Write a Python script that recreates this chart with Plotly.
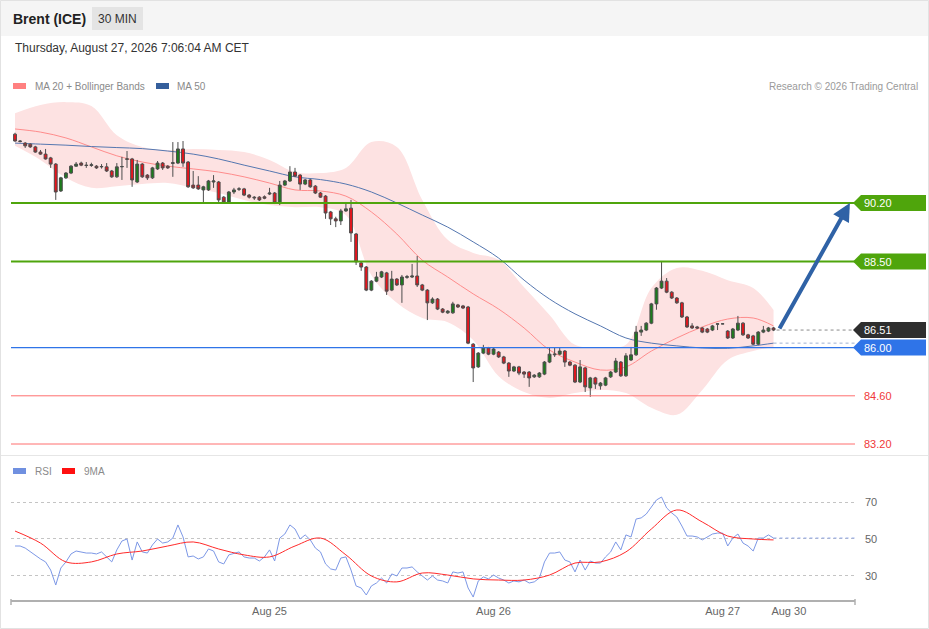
import plotly.graph_objects as go

# ---- price candles (30 min bars, index 0 = first bar on screen)
opens = [
    92.20, 92.00, 91.94, 91.91, 91.83, 91.68, 91.62, 91.51, 91.33, 90.55,
    90.93, 91.07, 91.27, 91.36, 91.30, 91.29, 91.27, 91.25, 91.25, 91.13,
    90.96, 91.25, 91.47, 91.48, 90.81, 91.33, 91.01, 90.93, 91.19, 91.36,
    91.27, 91.35, 91.36, 91.77, 91.39, 90.72, 90.72, 90.58, 90.58, 90.81,
    90.81, 90.37, 90.23, 90.52, 90.60, 90.61, 90.43, 90.37, 90.37, 90.38,
    90.46, 90.49, 90.20, 90.72, 90.84, 91.10, 91.01, 90.75, 90.87, 90.69,
    90.49, 90.40, 89.94, 89.74, 89.68, 89.97, 90.05, 89.30, 88.46, 88.34,
    87.67, 87.93, 88.05, 88.17, 87.67, 87.99, 87.82, 88.04, 88.05, 88.08,
    87.82, 87.67, 87.30, 87.41, 87.12, 87.01, 87.01, 87.24, 87.21, 87.18,
    86.10, 85.44, 85.84, 85.99, 85.81, 85.87, 85.73, 85.55, 85.32, 85.44,
    85.29, 85.29, 85.15, 85.15, 85.23, 85.58, 85.79, 85.81, 85.90, 85.58,
    85.49, 85.00, 85.41, 84.83, 85.12, 84.89, 84.91, 85.15, 85.29, 85.58,
    85.18, 85.64, 85.79, 86.45, 86.51, 86.71, 87.27, 87.73, 87.93, 87.61,
    87.44, 87.30, 86.89, 86.63, 86.60, 86.57, 86.54, 86.51, 86.68, 86.69,
    86.48, 86.28, 86.51, 86.71, 86.37, 86.34, 86.10, 86.45, 86.48, 86.57,
]
highs = [
    92.24, 92.03, 91.97, 91.93, 91.86, 91.74, 91.77, 91.54, 91.36, 90.96,
    91.10, 91.30, 91.39, 91.40, 91.39, 91.37, 91.30, 91.33, 91.36, 91.16,
    91.36, 91.54, 91.71, 91.51, 91.45, 91.36, 91.04, 91.25, 91.42, 91.39,
    91.30, 91.97, 91.97, 92.00, 91.42, 91.13, 90.98, 90.70, 90.87, 91.01,
    90.84, 90.40, 90.55, 90.64, 90.66, 90.64, 90.46, 90.40, 90.40, 90.42,
    90.64, 90.52, 90.84, 90.87, 91.27, 91.22, 91.04, 90.90, 90.90, 90.72,
    90.52, 90.43, 89.97, 89.80, 90.03, 90.23, 90.29, 89.33, 88.49, 88.37,
    87.96, 88.20, 88.23, 88.20, 88.23, 88.02, 88.11, 88.11, 88.43, 88.66,
    87.85, 87.70, 87.46, 87.44, 87.15, 87.09, 87.33, 87.27, 87.24, 87.21,
    86.13, 85.87, 86.08, 86.02, 85.99, 85.90, 85.76, 85.58, 85.47, 85.47,
    85.32, 85.32, 85.23, 85.29, 85.61, 85.99, 85.99, 85.99, 85.93, 85.61,
    85.52, 85.64, 85.44, 85.15, 85.15, 85.00, 85.15, 85.32, 85.70, 85.61,
    85.84, 86.02, 86.63, 86.63, 86.74, 87.30, 87.76, 88.49, 88.02, 87.64,
    87.47, 87.33, 86.92, 86.71, 86.63, 86.60, 86.57, 86.66, 86.71, 86.70,
    86.51, 86.57, 86.92, 86.74, 86.40, 86.37, 86.48, 86.63, 86.60, 86.60,
]
lows = [
    91.98, 91.96, 91.80, 91.80, 91.66, 91.60, 91.46, 91.22, 90.29, 90.52,
    90.90, 91.04, 91.25, 91.27, 91.22, 91.25, 91.19, 91.20, 91.10, 90.93,
    90.93, 90.87, 91.22, 90.67, 90.78, 90.93, 90.87, 90.90, 91.16, 91.16,
    91.19, 90.96, 91.33, 91.25, 90.64, 90.61, 90.58, 90.20, 90.55, 90.64,
    90.20, 90.20, 90.20, 90.46, 90.55, 90.40, 90.33, 90.29, 90.26, 90.31,
    90.43, 90.17, 90.14, 90.69, 90.81, 90.96, 90.58, 90.72, 90.64, 90.46,
    90.35, 89.74, 89.56, 89.50, 89.56, 89.94, 89.07, 88.40, 88.23, 87.64,
    87.64, 87.90, 88.02, 87.53, 87.64, 87.79, 87.30, 88.00, 88.02, 87.76,
    87.64, 86.80, 87.27, 87.09, 87.00, 86.98, 86.98, 87.15, 87.12, 86.10,
    85.00, 85.41, 85.81, 85.78, 85.78, 85.70, 85.52, 85.15, 85.29, 85.20,
    85.12, 84.86, 85.12, 85.12, 85.20, 85.55, 85.73, 85.78, 85.44, 85.46,
    84.97, 84.97, 84.71, 84.57, 84.80, 84.78, 84.88, 85.12, 85.26, 85.15,
    85.15, 85.61, 85.76, 86.34, 86.48, 86.68, 87.10, 87.70, 87.58, 87.41,
    87.27, 86.86, 86.57, 86.54, 86.54, 86.42, 86.42, 86.48, 86.51, 86.68,
    86.25, 86.25, 86.48, 86.34, 86.25, 86.07, 86.07, 86.42, 86.45, 86.48,
]
closes = [
    92.00, 91.99, 91.86, 91.83, 91.68, 91.62, 91.48, 91.33, 90.52, 90.93,
    91.07, 91.27, 91.33, 91.30, 91.29, 91.31, 91.22, 91.26, 91.13, 90.96,
    91.25, 91.26, 91.48, 90.87, 91.33, 90.96, 90.93, 91.22, 91.36, 91.22,
    91.22, 91.37, 91.77, 91.36, 90.67, 90.64, 90.61, 90.67, 90.84, 90.84,
    90.29, 90.23, 90.52, 90.58, 90.61, 90.43, 90.37, 90.35, 90.29, 90.34,
    90.49, 90.20, 90.72, 90.84, 91.10, 90.98, 90.75, 90.87, 90.67, 90.49,
    90.37, 89.91, 89.74, 89.68, 89.97, 90.03, 89.33, 88.49, 88.34, 87.67,
    87.93, 88.05, 88.20, 87.64, 87.99, 87.82, 88.05, 88.06, 88.08, 87.82,
    87.67, 87.30, 87.41, 87.12, 87.03, 87.06, 87.27, 87.18, 87.15, 86.13,
    85.41, 85.84, 85.99, 85.81, 85.96, 85.73, 85.55, 85.32, 85.44, 85.26,
    85.23, 85.12, 85.20, 85.26, 85.58, 85.81, 85.81, 85.90, 85.58, 85.49,
    85.00, 85.44, 84.86, 85.12, 84.94, 84.97, 85.12, 85.29, 85.61, 85.18,
    85.76, 85.79, 86.45, 86.51, 86.71, 87.27, 87.73, 87.93, 87.61, 87.44,
    87.30, 86.89, 86.60, 86.57, 86.57, 86.45, 86.45, 86.63, 86.69, 86.69,
    86.28, 86.54, 86.71, 86.37, 86.28, 86.10, 86.45, 86.51, 86.57, 86.51,
]
bars = list(range(len(closes)))

# ---- overlays read every 5 bars
ma_idx = [0, 5, 10, 15, 20, 25, 30, 35, 40, 45, 50, 55, 60, 65, 70, 75,
          80, 85, 90, 95, 100, 105, 110, 115, 120, 125, 130, 135, 140, 145, 149]
ma20 = [92.35, 92.26, 92.09, 91.83, 91.57, 91.39, 91.27, 91.19, 91.10, 90.96,
        90.78, 90.58, 90.55, 90.40, 89.94, 89.30, 88.54, 88.05, 87.56, 87.12,
        86.57, 85.93, 85.58, 85.35, 85.44, 85.90, 86.28, 86.60, 86.83, 86.86, 86.63]
bb_upper = [92.81, 93.05, 93.13, 93.02, 92.17, 91.83, 91.74, 91.77, 91.74, 91.68,
            91.45, 91.10, 91.07, 91.22, 91.97, 91.83, 90.29, 89.13, 88.75, 88.55,
            87.75, 86.95, 86.08, 86.02, 86.08, 87.73, 88.31, 88.23, 87.96, 87.73, 87.09]
bb_lower = [91.86, 91.45, 90.93, 90.64, 90.69, 90.75, 90.78, 90.64, 90.49, 90.29,
            90.14, 90.08, 90.08, 89.85, 88.10, 87.30, 86.86, 86.74, 86.22, 85.17,
            84.71, 84.54, 84.68, 84.77, 84.68, 84.25, 84.05, 84.77, 85.64, 85.90, 86.02]
ma50 = [91.94, 91.91, 91.88, 91.84, 91.81, 91.78, 91.71, 91.62, 91.48, 91.30,
        91.13, 90.96, 90.88, 90.75, 90.52, 90.20, 89.85, 89.50, 89.07, 88.60,
        87.96, 87.41, 86.98, 86.63, 86.28, 86.13, 86.05, 85.99, 85.98, 86.05, 86.13]

# ---- RSI (one value per bar) and its 9MA (every 5 bars)
rsi = [
    46.2, 46.2, 45.1, 43.0, 40.8, 39.2, 37.6, 33.2, 25.1, 34.3,
    37.6, 41.9, 43.5, 43.0, 42.4, 42.4, 41.9, 43.0, 40.3, 37.6,
    44.1, 48.9, 50.0, 38.6, 48.4, 43.0, 42.4, 46.8, 50.0, 47.8,
    48.4, 50.5, 57.6, 51.1, 40.3, 40.8, 39.2, 40.3, 44.6, 43.5,
    37.6, 36.5, 41.4, 42.4, 43.0, 40.3, 39.7, 39.7, 38.1, 40.3,
    44.1, 38.1, 50.5, 52.7, 57.6, 55.4, 50.0, 52.2, 49.5, 45.1,
    43.0, 36.5, 33.8, 33.2, 39.7, 40.3, 33.2, 24.6, 23.5, 19.7,
    24.6, 26.2, 28.9, 26.2, 31.1, 30.0, 34.3, 34.3, 34.9, 32.2,
    30.0, 27.8, 30.0, 27.8, 27.3, 26.2, 32.2, 31.6, 32.2, 23.5,
    18.6, 27.3, 29.5, 28.4, 30.5, 28.9, 27.8, 26.2, 27.3, 26.8,
    27.8, 26.2, 26.8, 28.9, 37.6, 42.4, 42.4, 43.0, 38.6, 37.6,
    32.2, 38.6, 33.2, 38.1, 37.0, 37.0, 40.3, 43.0, 48.4, 44.1,
    52.2, 51.1, 60.8, 61.4, 63.5, 67.3, 71.1, 72.7, 66.8, 64.1,
    61.9, 57.0, 51.6, 51.6, 51.1, 49.5, 51.1, 52.7, 53.2, 53.2,
    46.2, 50.5, 52.7, 47.8, 46.2, 43.5, 50.5, 50.5, 52.2, 50.5,
]
rsi_ma9 = [54.3, 47.8, 37.6, 37.6, 41.9, 43.5, 46.2, 48.4, 44.6, 41.4,
           40.3, 46.2, 50.5, 41.4, 30.0, 26.8, 31.6, 30.5, 28.4, 27.8,
           27.8, 30.5, 37.0, 37.6, 43.0, 55.4, 65.7, 59.2, 51.6, 50.0, 49.5]

# ---- levels
resistances = [90.20, 88.50]
pivot = 86.00
supports = [84.60, 83.20]
last_price = closes[-1]
target = resistances[0]

tick_bars = [50, 94, 139, 152]
tick_text = ["Aug 25", "Aug 26", "Aug 27", "Aug 30"]

FONT = "Liberation Sans, Arial, sans-serif"
GREEN = "#4fa50c"
BLUE = "#2f74e8"
RED = "#ff6f6f"
X_RANGE = [-0.79, 165.0]
Y_RANGE = [82.968, 93.337]


def px_x(p):
    return (p - 11) / 844


def px_y(p):
    return (600 - p) / 505


fig = go.Figure()

fig.add_trace(go.Scatter(x=ma_idx, y=bb_upper, mode="lines",
                         line=dict(width=0, shape="spline"), hoverinfo="skip"))
fig.add_trace(go.Scatter(x=ma_idx, y=bb_lower, mode="lines", fill="tonexty",
                         fillcolor="#fde2e2", line=dict(width=0, shape="spline"),
                         hoverinfo="skip"))
fig.add_trace(go.Scatter(x=ma_idx, y=ma20, mode="lines",
                         line=dict(color="#ff8c8c", width=1, shape="spline")))
fig.add_trace(go.Scatter(x=ma_idx, y=ma50, mode="lines",
                         line=dict(color="#5577b0", width=1, shape="spline")))
# extensions of last price and last MA 50
fig.add_trace(go.Scatter(x=[bars[-1] + 0.6, X_RANGE[1]], y=[last_price, last_price],
                         mode="lines", line=dict(color="#8a8a8a", width=1, dash="dot")))
fig.add_trace(go.Scatter(x=[ma_idx[-1], X_RANGE[1]], y=[ma50[-1], ma50[-1]],
                         mode="lines", line=dict(color="#9fb0cf", width=1, dash="dot")))

fig.add_trace(go.Candlestick(
    x=bars, open=opens, high=highs, low=lows, close=closes,
    xaxis="x", yaxis="y3",
    increasing=dict(fillcolor="#1b7d1b", line=dict(color="#4d4d4d", width=1)),
    decreasing=dict(fillcolor="#e8141c", line=dict(color="#4d4d4d", width=1)),
    whiskerwidth=0,
))

fig.add_trace(go.Scatter(x=bars, y=rsi, mode="lines", xaxis="x2", yaxis="y2",
                         line=dict(color="#7d98e6", width=1)))
fig.add_trace(go.Scatter(x=ma_idx, y=rsi_ma9, mode="lines", xaxis="x2", yaxis="y2",
                         line=dict(color="#ff2a2a", width=1, shape="spline")))
fig.add_trace(go.Scatter(x=[bars[-1], X_RANGE[1]], y=[rsi[-1], rsi[-1]], mode="lines",
                         xaxis="x2", yaxis="y2",
                         line=dict(color="#8fa6e8", width=1, dash="dot")))

shapes = []
annotations = []

# page furniture
shapes.append(dict(type="rect", xref="paper", yref="paper", x0=px_x(0), x1=px_x(929),
                   y0=px_y(0), y1=px_y(36), fillcolor="#f5f5f5", line=dict(width=0),
                   layer="below"))
shapes.append(dict(type="rect", xref="paper", yref="paper", x0=px_x(92), x1=px_x(143),
                   y0=px_y(7), y1=px_y(30), fillcolor="#e4e4e4", line=dict(width=0)))
shapes.append(dict(type="line", xref="paper", yref="paper", x0=px_x(0), x1=px_x(929),
                   y0=px_y(455.5), y1=px_y(455.5), line=dict(color="#e6e6e6", width=1)))
shapes.append(dict(type="rect", xref="paper", yref="paper", x0=px_x(0.5), x1=px_x(928.5),
                   y0=px_y(0.5), y1=px_y(628.5), line=dict(color="#e2e2e2", width=1)))
for x0, x1, y, col in [(13, 26, 86, "#ff8080"), (156, 169, 86, "#355f9c"),
                       (13, 26, 471, "#7090e0"), (62, 75, 471, "#ff1010")]:
    shapes.append(dict(type="rect", xref="paper", yref="paper", x0=px_x(x0), x1=px_x(x1),
                       y0=px_y(y - 3), y1=px_y(y + 3), fillcolor=col, line=dict(width=0)))
for xe in (11, 855):
    shapes.append(dict(type="line", xref="paper", yref="paper", x0=px_x(xe), x1=px_x(xe),
                       y0=px_y(599), y1=px_y(605), line=dict(color="#b0b0b0", width=1.5)))


def text(x, y, s, size=11, color="#888", anchor="left", **kw):
    annotations.append(dict(xref="paper", yref="paper", x=px_x(x), y=px_y(y), text=s,
                            showarrow=False, xanchor=anchor, yanchor="middle",
                            font=dict(family=FONT, size=size, color=color), **kw))


text(11, 19, "<b>Brent (ICE)</b>", 14, "#222")
text(117.5, 18.5, "30 MIN", 12, "#333", "center")
text(13, 48, "Thursday, August 27, 2026 7:06:04 AM CET", 12, "#333")
text(33, 86, "MA 20 + Bollinger Bands", 10, "#8a8a8a")
text(175, 86, "MA 50", 10, "#8a8a8a")
text(920, 86, "Research © 2026 Trading Central", 10, "#9a9a9a", "right")
text(33, 471, "RSI", 10, "#8a8a8a")
text(82, 471, "9MA", 10, "#8a8a8a")

# price levels
level_style = [(r, GREEN, 2, GREEN) for r in resistances] + [(pivot, BLUE, 1.3, BLUE)]
level_style += [(s, RED, 1, None) for s in supports]
for lvl, col, w, tag in level_style:
    shapes.append(dict(type="line", xref="paper", yref="y", x0=0, x1=1, y0=lvl, y1=lvl,
                       line=dict(color=col, width=w)))
    if tag:
        shapes.append(dict(type="path", xref="paper", yref="y", xsizemode="pixel",
                           ysizemode="pixel", xanchor=1, yanchor=lvl,
                           path="M-2,0 L6,8 L71,8 L71,-8 L6,-8 Z",
                           fillcolor=tag, line=dict(width=0)))
    annotations.append(dict(xref="paper", yref="y", x=px_x(862), y=lvl, text=f"{lvl:.2f}",
                            showarrow=False, xanchor="left", yanchor="middle",
                            font=dict(family=FONT, size=11,
                                      color="white" if tag else "#f03838")))
shapes.append(dict(type="path", xref="paper", yref="y", xsizemode="pixel",
                   ysizemode="pixel", xanchor=1, yanchor=last_price,
                   path="M-2,0 L6,8 L71,8 L71,-8 L6,-8 Z",
                   fillcolor="#2e2e2e", line=dict(width=0)))
annotations.append(dict(xref="paper", yref="y", x=px_x(862), y=last_price,
                        text=f"{last_price:.2f}", showarrow=False, xanchor="left",
                        yanchor="middle", font=dict(family=FONT, size=11, color="white")))

# target arrow
annotations.append(dict(xref="x", yref="y", x=164.0, y=target, axref="x", ayref="y",
                        ax=bars[-1] + 1, ay=last_price, text="", showarrow=True,
                        arrowhead=2, arrowsize=0.9, arrowwidth=4, arrowcolor="#2f62a6"))

fig.update_layout(
    width=929, height=629,
    margin=dict(l=11, r=74, t=95, b=29),
    paper_bgcolor="white", plot_bgcolor="rgba(0,0,0,0)",
    showlegend=False,
    boxgap=0.2,
    font=dict(family=FONT),
    shapes=shapes, annotations=annotations,
    xaxis=dict(domain=[0, 1], range=X_RANGE, visible=False, anchor="y",
               rangeslider=dict(visible=False)),
    yaxis=dict(domain=[px_y(452), 1], range=Y_RANGE, visible=False, anchor="x"),
    yaxis3=dict(overlaying="y", range=Y_RANGE, visible=False, anchor="x"),
    xaxis2=dict(domain=[0, 1], range=X_RANGE, anchor="y2", showline=True,
                linecolor="#b0b0b0", linewidth=2, tickvals=tick_bars, ticktext=tick_text,
                ticks="", showgrid=False, zeroline=False,
                tickfont=dict(family=FONT, size=11, color="#666")),
    yaxis2=dict(domain=[0, px_y(485)], range=[17.0, 79.2], anchor="x2", side="right",
                tickvals=[30, 50, 70], showgrid=True, gridcolor="#c4c4c4", griddash="dot",
                gridwidth=1, zeroline=False, showline=False, ticks="",
                ticklabelstandoff=9,
                tickfont=dict(family=FONT, size=11, color="#666")),
)

fig.write_html("out.html", config={"displayModeBar": False},
               post_script="document.body.style.margin='0px';")
